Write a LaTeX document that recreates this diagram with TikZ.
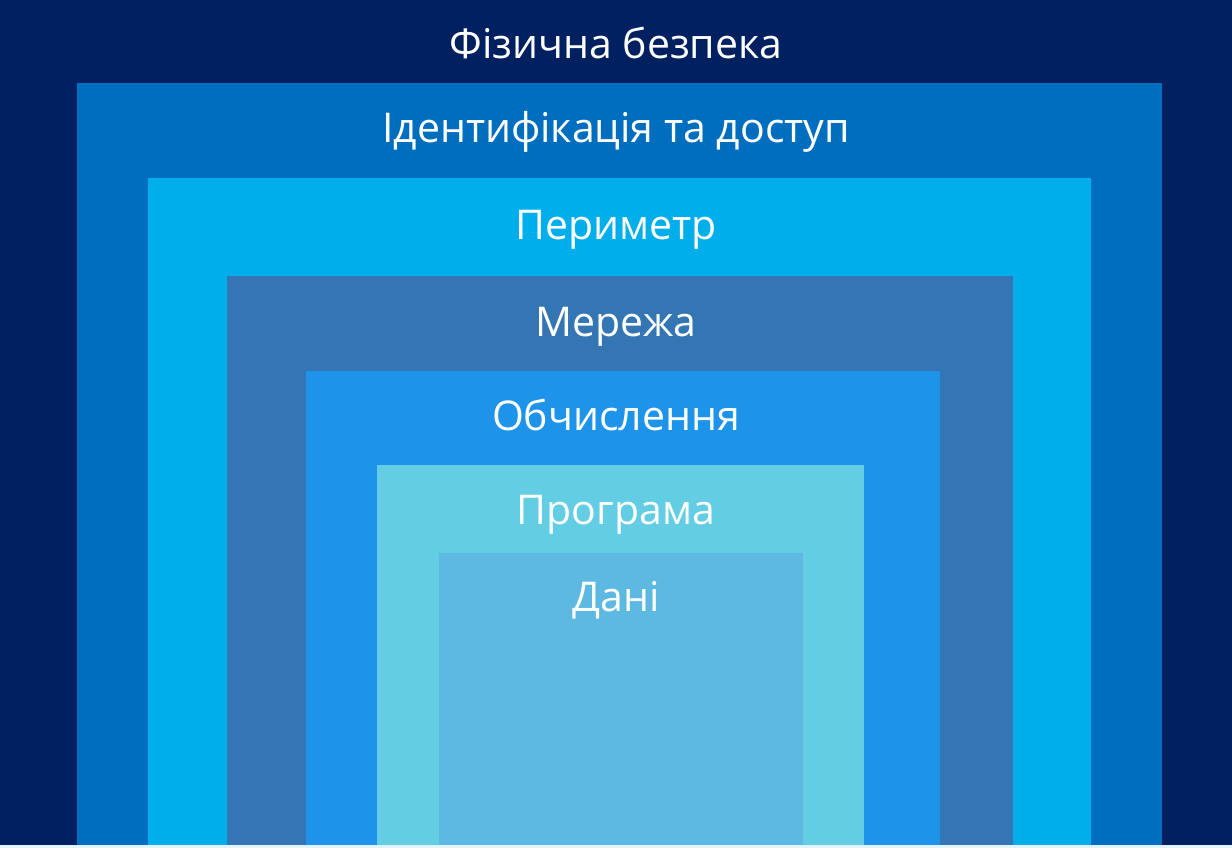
\documentclass[tikz,border=0pt]{standalone}
\usepackage{fontspec}
\setmainfont{Open Sans}
\definecolor{navy}{HTML}{002060}
\definecolor{identc}{HTML}{006EBE}
\definecolor{perimc}{HTML}{00AEEC}
\definecolor{netc}{HTML}{3476B3}
\definecolor{compc}{HTML}{1E93EA}
\definecolor{appc}{HTML}{62CDE3}
\definecolor{datac}{HTML}{5DB9E2}
\definecolor{stripc}{HTML}{E4F2FB}

\begin{document}
\begin{tikzpicture}[x=1pt, y=-1pt, lbl/.style = {text=white, anchor=base, font=\fontsize{41}{44}\selectfont, inner sep=0pt}]
		\useasboundingbox (0,0) rectangle (1232,848);
		\fill[navy] (0,0) rectangle (1232,848);
		\fill[identc] (77,83) rectangle (1162,845);
		\fill[perimc] (148,178) rectangle (1091,845);
		\fill[netc] (227,276) rectangle (1013,845);
		\fill[compc] (306,371) rectangle (940,845);
		\fill[appc] (377,465) rectangle (864,845);
		\fill[datac] (439,553) rectangle (803,845);
		\fill[stripc] (0,845) rectangle (1232,848);
		\node[lbl] (1) at (616,59) {Фізична безпека};
		\node[lbl] (2) at (616,143) {Ідентифікація та доступ};
		\node[lbl] (3) at (616,239) {Периметр};
		\node[lbl] (4) at (616,336) {Мережа};
		\node[lbl] (5) at (616,430) {Обчислення};
		\node[lbl] (6) at (616,524) {Програма};
		\node[lbl] (7) at (616,611) {Дані};
	\end{tikzpicture}
\end{document}
